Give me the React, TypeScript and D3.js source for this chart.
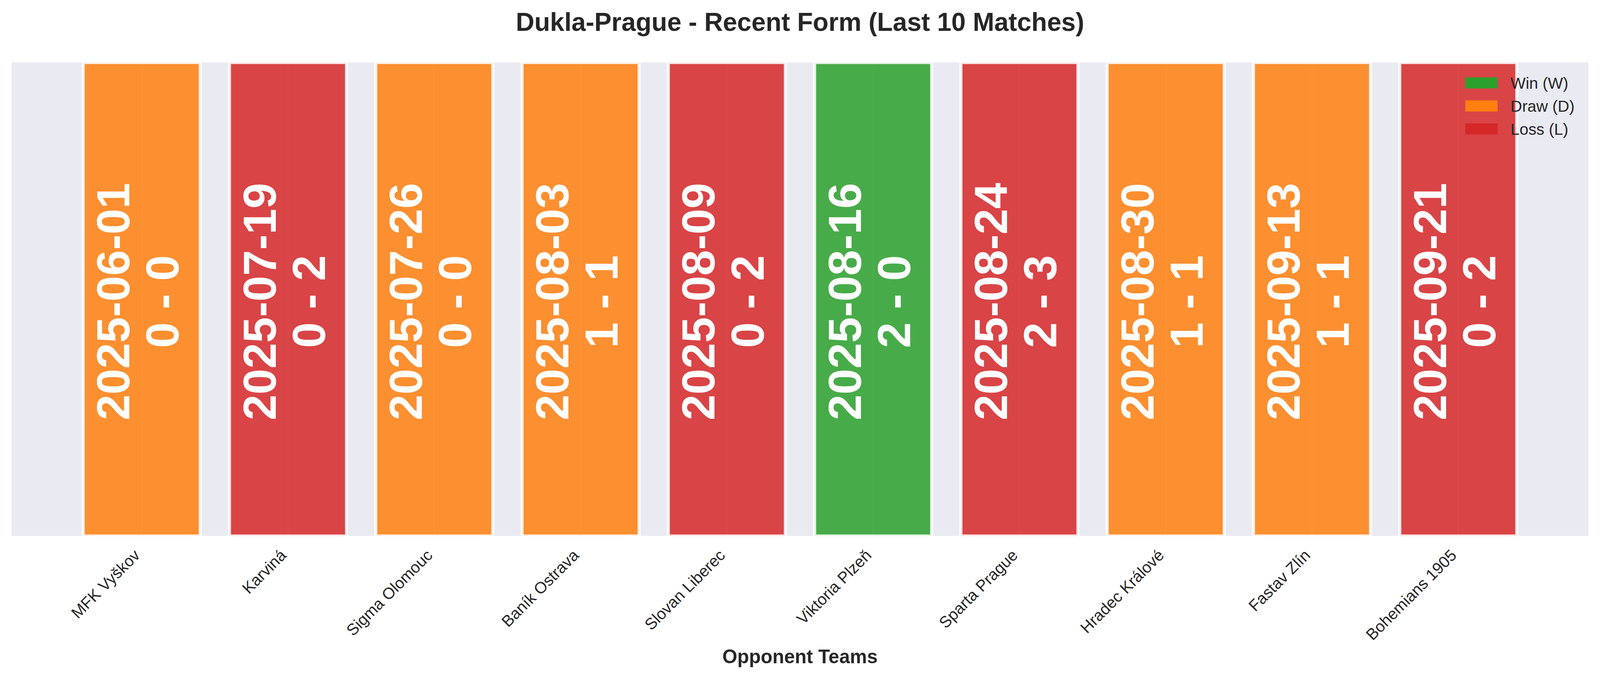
import { useEffect } from 'react'
import * as d3 from 'd3'

const opponents = [
  'MFK Vyškov',
  'Karviná',
  'Sigma Olomouc',
  'Baník Ostrava',
  'Slovan Liberec',
  'Viktoria Plzeň',
  'Sparta Prague',
  'Hradec Králové',
  'Fastav Zlín',
  'Bohemians 1905',
]
const matchDates = [
  '2025-06-01', '2025-07-19', '2025-07-26', '2025-08-03', '2025-08-09',
  '2025-08-16', '2025-08-24', '2025-08-30', '2025-09-13', '2025-09-21',
]
const scores = ['0 - 0', '0 - 2', '0 - 0', '1 - 1', '0 - 2', '2 - 0', '2 - 3', '1 - 1', '1 - 1', '0 - 2']
const results = ['D', 'L', 'D', 'D', 'L', 'W', 'L', 'D', 'D', 'L']
const legendKeys = ['W', 'D', 'L']
const legendLabels = ['Win (W)', 'Draw (D)', 'Loss (L)']

const RESULT_COLOR: Record<string, string> = { W: '#2ca02c', D: '#ff7f0e', L: '#d62728' }

const W = 4170
const H = 1769
const AX = { left: 30, right: 4140, top: 163, bottom: 1397 }
const FONT = '"Liberation Sans", Arial, Helvetica, sans-serif'
const TEXT = '#262626'
const BAR_ALPHA = 0.85

export default function App() {
  useEffect(() => {
    document.body.style.margin = '0'
  }, [])

  // matplotlib-style bar layout: width 0.8, 5% margins on the bar span
  const x = d3.scaleLinear().domain([-0.89, 9.89]).range([AX.left, AX.right])
  const y = d3.scaleLinear().domain([0, 1]).range([AX.bottom, AX.top])
  const idx = d3.range(opponents.length)
  const barW = x(0.8) - x(0)
  const cy = (AX.top + AX.bottom) / 2

  return (
    <svg
      viewBox={`0 0 ${W} ${H}`}
      width="100%"
      style={{ display: 'block', background: '#fff', maxWidth: W }}
      fontFamily={FONT}
    >
      <defs>
        <clipPath id="axclip">
          <rect x={AX.left} y={AX.top} width={AX.right - AX.left} height={AX.bottom - AX.top} />
        </clipPath>
      </defs>

      {/* title */}
      <text x={(AX.left + AX.right) / 2} y={80} textAnchor="middle" fontSize={67} fontWeight="bold" fill={TEXT}>
        Dukla-Prague - Recent Form (Last 10 Matches)
      </text>

      {/* axes background + grid */}
      <rect x={AX.left} y={AX.top} width={AX.right - AX.left} height={AX.bottom - AX.top} fill="#EAEAF2" />
      <g clipPath="url(#axclip)">
        {idx.map((i) => (
          <line key={`g${i}`} x1={x(i)} x2={x(i)} y1={AX.top} y2={AX.bottom} stroke="#fff" strokeWidth={4} />
        ))}

        {/* bars */}
        {idx.map((i) => (
          <rect
            key={`b${i}`}
            x={x(i - 0.4)}
            y={y(1)}
            width={barW}
            height={y(0) - y(1)}
            fill={RESULT_COLOR[results[i]]}
            fillOpacity={BAR_ALPHA}
            stroke="#fff"
            strokeOpacity={BAR_ALPHA}
            strokeWidth={8}
          />
        ))}
      </g>

      {/* date + score labels inside bars */}
      {idx.map((i) => (
        <text
          key={`t${i}`}
          transform={`translate(${x(i)},${cy + 6}) rotate(-90)`}
          textAnchor="middle"
          fontSize={121}
          fontWeight="bold"
          fill="#fff"
        >
          <tspan x={0} y={-32}>{matchDates[i]}</tspan>
          <tspan x={0} y={96}>{scores[i]}</tspan>
        </text>
      ))}

      {/* x tick labels */}
      {idx.map((i) => (
        <text
          key={`xl${i}`}
          transform={`translate(${x(i) - 2},${AX.bottom + 53}) rotate(-45)`}
          textAnchor="end"
          fontSize={41.7}
          fill={TEXT}
        >
          {opponents[i]}
        </text>
      ))}

      {/* x axis label */}
      <text x={(AX.left + AX.right) / 2} y={1729} textAnchor="middle" fontSize={50} fontWeight="bold" fill={TEXT}>
        Opponent Teams
      </text>

      {/* legend */}
      {legendKeys.map((k, i) => {
        const ly = 216 + i * 60
        return (
          <g key={`lg${k}`}>
            <rect x={3819} y={ly - 14.5} width={84} height={29} fill={RESULT_COLOR[k]} />
            <text x={3937} y={ly + 15} fontSize={41.7} fill={TEXT}>
              {legendLabels[i]}
            </text>
          </g>
        )
      })}
    </svg>
  )
}
